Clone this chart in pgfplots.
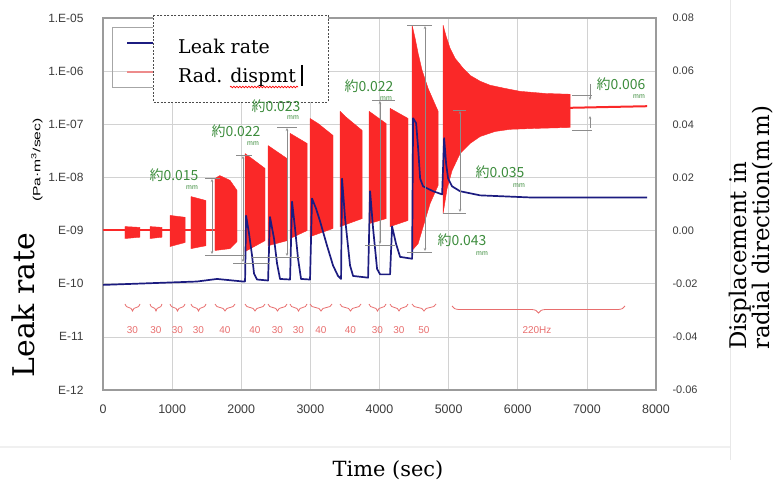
\documentclass[border=0pt]{standalone}
\usepackage{pgfplots}
\pgfplotsset{compat=1.18}
\usepackage{fontspec}
\usetikzlibrary{decorations.pathreplacing,decorations.pathmorphing,arrows.meta}
\newfontfamily\serifL{DejaVu Serif}
\newfontfamily\sansL{Liberation Sans}
\newfontfamily\jp{Noto Sans CJK JP}
\definecolor{navy}{RGB}{28,28,128}
\definecolor{rred}{RGB}{250,40,40}
\definecolor{ggreen}{RGB}{60,140,60}
\definecolor{ppink}{RGB}{232,110,110}
\definecolor{gridc}{RGB}{210,210,210}
\definecolor{framec}{RGB}{155,155,155}
\definecolor{tickc}{RGB}{60,60,60}
\definecolor{dimc}{RGB}{140,140,140}
\begin{document}
\begin{tikzpicture}
\path[use as bounding box] (-103bp,-97bp) rectangle (678bp,390bp);
\pgfplotsset{base/.style={at={(0,0)}, anchor=south west, scale only axis,
  width=553bp, height=372bp, xmin=0, xmax=8000,
  scaled x ticks=false, scaled y ticks=false}}
% ---------- axis 1: frame, grid, left ticks ----------
\begin{axis}[base, ymode=log, ymin=1e-12, ymax=1e-5,
  axis line style={framec, line width=1.6bp},
  grid=major, major grid style={gridc, line width=0.6bp},
  tick style={draw=none},
  xtick={0,1000,2000,3000,4000,5000,6000,7000,8000},
  xticklabels={0,1000,2000,3000,4000,5000,6000,7000,8000},
  ytick={1e-12,1e-11,1e-10,1e-9,1e-8,1e-7,1e-6,1e-5},
  yticklabels={E-12,E-11,E-10,E-09,1.E-08,1.E-07,1.E-06,1.E-05},
  xticklabel style={font=\sansL\fontsize{12.5}{13}\selectfont, text=tickc, yshift=-11bp},
  yticklabel style={font=\sansL\fontsize{12}{13}\selectfont, text=tickc, xshift=-16bp},
]
\addplot[draw=none] coordinates {(0,1e-10)};
\end{axis}
% ---------- axis 2: displacement (right) ----------
\begin{axis}[base, ymin=-0.06, ymax=0.08,
  axis y line*=right, axis x line=none, axis line style={draw=none},
  tick style={draw=none},
  ytick={-0.06,-0.04,-0.02,0,0.02,0.04,0.06,0.08},
  yticklabels={-0.06,-0.04,-0.02,0.00,0.02,0.04,0.06,0.08},
  yticklabel style={font=\sansL\fontsize{11}{12}\selectfont, text=tickc, xshift=13bp},
]
\addplot[rred, line width=1.5bp] coordinates {(0,0.0003)(1620,0.0003)};
\addplot[fill=rred, draw=rred, line width=0.4bp] coordinates {(318,0.0015)(535,0.0012)(535,-0.0025)(318,-0.003)(318,0.0015)};
\addplot[fill=rred, draw=rred, line width=0.4bp] coordinates {(680,0.0015)(854,0.0012)(854,-0.0025)(680,-0.003)(680,0.0015)};
\addplot[fill=rred, draw=rred, line width=0.4bp] coordinates {(970,0.0057)(1187,0.005)(1187,-0.0045)(970,-0.006)(970,0.0057)};
\addplot[fill=rred, draw=rred, line width=0.4bp] coordinates {(1273,0.0128)(1490,0.0113)(1490,-0.0057)(1273,-0.0068)(1273,0.0128)};
\addplot[fill=rred, draw=rred, line width=0.4bp] coordinates {(1620,0.0196)(1690,0.0207)(1837,0.0189)(1939,0.0151)(1939,-0.0041)(1837,-0.0068)(1620,-0.0075)(1620,0.0196)};
\addplot[fill=rred, draw=rred, line width=0.4bp] coordinates {(2055,0.029)(2344,0.0234)(2344,-0.0038)(2055,-0.0079)(2055,0.029)};
\addplot[fill=rred, draw=rred, line width=0.4bp] coordinates {(2388,0.032)(2663,0.0271)(2663,-0.0038)(2388,-0.0057)(2388,0.032)};
\addplot[fill=rred, draw=rred, line width=0.4bp] coordinates {(2706,0.0366)(2952,0.0328)(2952,0)(2706,-0.003)(2706,0.0366)};
\addplot[fill=rred, draw=rred, line width=0.4bp] coordinates {(2995,0.0422)(3111,0.0403)(3328,0.0358)(3328,0.0008)(2995,-0.0023)(2995,0.0422)};
\addplot[fill=rred, draw=rred, line width=0.4bp] coordinates {(3430,0.0449)(3502,0.043)(3748,0.0377)(3748,0.0045)(3430,0.0015)(3430,0.0449)};
\addplot[fill=rred, draw=rred, line width=0.4bp] coordinates {(3849,0.0449)(4095,0.0403)(4095,0.0045)(3849,0.0026)(3849,0.0449)};
\addplot[fill=rred, draw=rred, line width=0.4bp] coordinates {(4153,0.046)(4413,0.0422)(4413,0.0038)(4153,0.0015)(4153,0.046)};
\addplot[fill=rred, draw=rred, line width=0.4bp] coordinates {(4472,0.0773)(4515,0.0724)(4559,0.0667)(4616,0.0603)(4703,0.0535)(4848,0.0449)(4848,0.017)(4732,0.0102)(4645,0.0026)(4559,-0.0049)(4472,-0.0075)(4472,0.0773)};
\addplot[fill=rred, draw=rred, line width=0.4bp] coordinates {(4920,0.0773)(4964,0.0731)(5021,0.0686)(5094,0.0648)(5210,0.0611)(5311,0.0584)(5456,0.0562)(5600,0.0547)(5817,0.0535)(6034,0.0524)(6396,0.0516)(6758,0.0513)(6758,0.0388)(6324,0.0385)(5890,0.0381)(5673,0.0373)(5456,0.0354)(5311,0.0328)(5166,0.029)(5050,0.0226)(4978,0.0158)(4920,0.0064)(4920,0.0773)};
\addplot[rred, line width=2bp] coordinates {(6758,0.0462)(7300,0.0465)(7872,0.0468)};
\end{axis}
% ---------- axis 3: leak rate (left, log) ----------
\begin{axis}[base, ymode=log, ymin=1e-12, ymax=1e-5, hide axis]
\addplot[navy, line width=1.7bp, line join=round] coordinates {
(0,9.5e-11)(1360,1.1e-10)(1650,1.23e-10)(2026,1.1e-10)(2055,1.1e-10)
(2070,1.9e-9)(2113,8.7e-10)(2156,3.4e-10)(2185,1.55e-10)(2228,1.2e-10)(2388,1.15e-10)
(2416,1.8e-9)(2474,7.1e-10)(2518,2.4e-10)(2561,1.23e-10)(2706,1.2e-10)
(2735,3.5e-9)(2778,1.1e-9)(2822,2.95e-10)(2865,1.23e-10)(2995,1.2e-10)
(3024,4.0e-9)(3082,2.6e-9)(3140,1.5e-9)(3241,5.2e-10)(3328,2.2e-10)(3400,1.4e-10)(3444,1.23e-10)
(3458,9.5e-9)(3502,1.7e-9)(3574,2.2e-10)(3618,1.4e-10)(3835,1.3e-10)
(3864,5.5e-9)(3907,1.1e-9)(3965,1.9e-10)(4008,1.5e-10)(4153,1.5e-10)
(4182,1.2e-9)(4240,5.6e-10)(4298,3.2e-10)(4472,2.95e-10)
(4486,1.3e-7)(4530,1.05e-7)(4559,3.5e-8)(4588,9.5e-9)(4631,6.8e-9)(4776,5.5e-9)(4906,4.8e-9)
(4935,5.5e-8)(4964,1.8e-8)(4993,9.5e-9)(5050,6.8e-9)(5166,5.5e-9)(5456,4.6e-9)(6180,4.2e-9)(7872,4.2e-9)};
\end{axis}
% ---------- annotations in image pixel coordinates ----------
\begin{scope}[x=1bp, y=-1bp, shift={(-103,-390)}]
% faint outer lines
\draw[black!9, line width=0.8bp] (730,0) -- (730,460);
\draw[black!6, line width=1.2bp] (0,447) -- (730,447);
% axis titles
\node[rotate=90, font=\serifL\fontsize{30}{30}\selectfont, inner sep=0] at (23,305) {Leak rate};
\node[rotate=90, font=\sansL\fontsize{10.5}{11}\selectfont, inner sep=0] at (37,160) {\scalebox{1.5}[1]{(Pa·m\textsuperscript{3}/sec)}};
\node[font=\serifL\fontsize{21}{21}\selectfont, inner sep=0] at (388,470) {Time (sec)};
\node[rotate=90, anchor=west, align=left, inner sep=0, font=\serifL\fontsize{23}{18}\selectfont] at (751,350) {Displacement in\\radial direction(m\,m)};
% legend (excel) behind
\draw[black!35, line width=0.6bp] (112,27) rectangle (175,87);
\draw[navy, line width=1.4bp] (127,43) -- (153,43);
\draw[ppink!80, line width=1.2bp] (127,72) -- (153,72);
% overlaid text box
\draw[fill=white, draw=black!70, line width=0.7bp, dash pattern=on 2bp off 1.5bp] (153,15) rectangle (328,102);
\node[anchor=base west, inner sep=0, font=\serifL\fontsize{19}{19}\selectfont] at (178,53) {Leak rate};
\node[anchor=base west, inner sep=0, font=\serifL\fontsize{19}{19}\selectfont] at (178,82) {Rad. dispmt};
\draw[red, line width=0.7bp, decorate, decoration={snake, amplitude=0.8bp, segment length=3bp}] (230,87) -- (298,87);
\draw[black, line width=1.8bp] (302,65) -- (302,86);
% dimension lines
\begin{scope}[dimc, line width=0.6bp]
\draw (205,178) -- (220,178); \draw (205,255) -- (245,255);
\draw[{Stealth[length=3bp,width=2.5bp]}-{Stealth[length=3bp,width=2.5bp]}] (212,179) -- (212,254);
\draw (236,155) -- (252,155); \draw (233,263) -- (270,263);
\draw[{Stealth[length=3bp,width=2.5bp]}-{Stealth[length=3bp,width=2.5bp]}] (243,156) -- (243,262);
\draw (277,127) -- (297,127); \draw (252,257) -- (300,257);
\draw[{Stealth[length=3bp,width=2.5bp]}-{Stealth[length=3bp,width=2.5bp]}] (287,128) -- (287,256);
\draw (372,100) -- (395,100); \draw (365,245) -- (395,245);
\draw[{Stealth[length=3bp,width=2.5bp]}-{Stealth[length=3bp,width=2.5bp]}] (380,101) -- (380,244);
\draw (407,25) -- (432,25); \draw (407,252) -- (432,252);
\draw[{Stealth[length=3bp,width=2.5bp]}-{Stealth[length=3bp,width=2.5bp]}] (425,26) -- (425,251);
\draw (453,110) -- (466,110); \draw (443,213) -- (466,213);
\draw[{Stealth[length=3bp,width=2.5bp]}-{Stealth[length=3bp,width=2.5bp]}] (460,111) -- (460,212);
\draw (572,95) -- (592,95); \draw (572,130) -- (592,130);
\draw[-{Stealth[length=3bp,width=2.5bp]}] (590,84) -- (590,100);
\draw[-{Stealth[length=3bp,width=2.5bp]}] (590,128) -- (590,116);
\end{scope}
% green labels
\begin{scope}[ggreen]
\node[font=\jp\fontsize{14}{14}\selectfont, inner sep=0] at (174,175) {約0.015};
\node[font=\sansL\fontsize{7}{7}\selectfont, inner sep=0] at (192,188) {mm};
\node[font=\jp\fontsize{14}{14}\selectfont, inner sep=0] at (236,131) {約0.022};
\node[font=\sansL\fontsize{7}{7}\selectfont, inner sep=0] at (253,144) {mm};
\node[font=\jp\fontsize{14}{14}\selectfont, inner sep=0] at (276,106) {約0.023};
\node[font=\sansL\fontsize{7}{7}\selectfont, inner sep=0] at (293,118) {mm};
\node[font=\jp\fontsize{14}{14}\selectfont, inner sep=0] at (369,86) {約0.022};
\node[font=\sansL\fontsize{7}{7}\selectfont, inner sep=0] at (386,99) {mm};
\node[font=\jp\fontsize{14}{14}\selectfont, inner sep=0] at (462,240) {約0.043};
\node[font=\sansL\fontsize{7}{7}\selectfont, inner sep=0] at (482,254) {mm};
\node[font=\jp\fontsize{14}{14}\selectfont, inner sep=0] at (500,172) {約0.035};
\node[font=\sansL\fontsize{7}{7}\selectfont, inner sep=0] at (519,186) {mm};
\node[font=\jp\fontsize{14}{14}\selectfont, inner sep=0] at (621,84) {約0.006};
\node[font=\sansL\fontsize{7}{7}\selectfont, inner sep=0] at (639,97) {mm};
\end{scope}
% frequency braces
\begin{scope}[ppink, line width=0.8bp]
\foreach \a/\b/\f in {125/140/30,150/162/30,170/185/30,191/206/30,215/235/40,245/265/40,268/287/30,290/307/30,310/332/40,340/361/40,369/386/30,390/408/30,412/436/50}{
  \draw[decorate, decoration={brace, mirror, amplitude=7bp}] (\a,304) -- (\b,304);
  \node[font=\sansL\fontsize{10}{10}\selectfont, text=ppink, inner sep=0] at ({(\a+\b)/2},330) {\f};
}
\draw[decorate, decoration={brace, mirror, amplitude=7bp}] (452,306) -- (625,306);
\node[font=\sansL\fontsize{10}{10}\selectfont, text=ppink, inner sep=0] at (537,330) {220Hz};
\end{scope}
\end{scope}
\end{tikzpicture}
\end{document}
